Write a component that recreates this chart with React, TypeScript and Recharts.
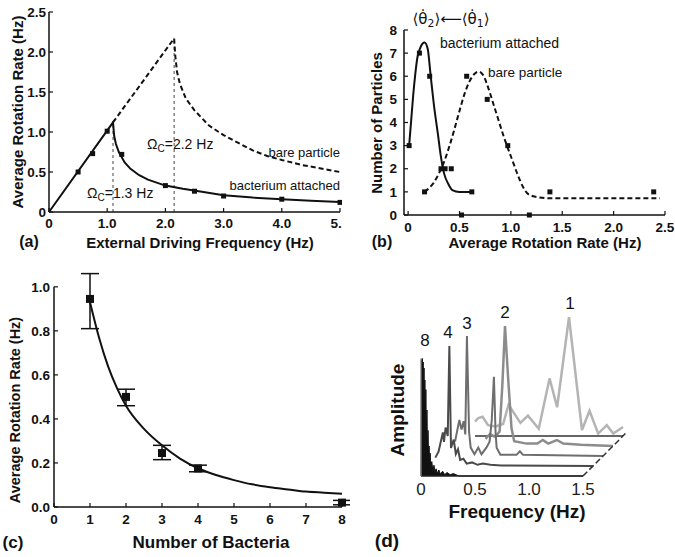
import React from 'react';
import { ComposedChart, Line, Scatter, XAxis, YAxis, ReferenceLine, ErrorBar, Area } from 'recharts';

const FONT = '"Liberation Sans", Arial, Helvetica, sans-serif';
const INK = '#111';

// ---------------- Panel (a) ----------------
const aXTicks = [0, 1, 2, 3, 4, 5];
const aXTickLabels = ['0', '1.0', '2.0', '3.0', '4.0', '5.0'];
const aYTicks = [0, 0.5, 1, 1.5, 2, 2.5];
const aYTickLabels = ['0', '0.5', '1.0', '1.5', '2.0', '2.5'];
const aAttachedFreq = [0, 1.1, 1.12, 1.15, 1.2, 1.3, 1.4, 1.55, 1.7, 2.0, 2.3, 2.6, 3.0, 3.5, 4.0, 4.5, 5.0];
const aAttachedRate = [0, 1.12, 0.95, 0.85, 0.75, 0.62, 0.54, 0.46, 0.405, 0.33, 0.29, 0.255, 0.21, 0.18, 0.16, 0.14, 0.125];
const aBareFreq = [1.1, 2.15, 2.17, 2.2, 2.25, 2.35, 2.5, 2.75, 3.0, 3.5, 3.75, 4.0, 4.33, 5.0];
const aBareRate = [1.12, 2.17, 1.95, 1.75, 1.6, 1.42, 1.27, 1.08, 0.96, 0.77, 0.7, 0.65, 0.59, 0.5];
const aPointFreq = [0.5, 0.75, 1.0, 1.25, 2.0, 2.5, 3.0, 4.0, 5.0];
const aPointRate = [0.5, 0.73, 1.01, 0.72, 0.33, 0.26, 0.2, 0.16, 0.12];
const aCritFreq = [1.1, 2.15];
const aCritRate = [1.12, 2.17];

// ---------------- Panel (b) ----------------
const bXTicks = [0, 0.5, 1, 1.5, 2, 2.5];
const bXTickLabels = ['0', '0.5', '1.0', '1.5', '2.0', '2.5'];
const bYTicks = [0, 1, 2, 3, 4, 5, 6, 7, 8];
const bYTickLabels = ['0', '1', '2', '3', '4', '5', '6', '7', '8'];
const bAttachedRate = [0.01, 0.03, 0.05, 0.07, 0.09, 0.12, 0.16, 0.19, 0.22, 0.25, 0.29, 0.32, 0.35, 0.39, 0.43, 0.5, 0.64];
const bAttachedCount = [3.0, 4.1, 5.2, 6.1, 6.8, 7.25, 7.46, 7.2, 6.0, 4.8, 3.5, 2.5, 1.8, 1.35, 1.08, 1.0, 1.0];
const bBareRate = [0.16, 0.2, 0.25, 0.3, 0.35, 0.4, 0.45, 0.5, 0.55, 0.6, 0.65, 0.69, 0.73, 0.78, 0.83, 0.88, 0.93, 0.97, 1.02, 1.07, 1.12, 1.17, 1.25, 1.38, 1.6, 2.0, 2.45];
const bBareCount = [1.0, 1.15, 1.4, 1.8, 2.3, 2.95, 3.7, 4.5, 5.25, 5.8, 6.12, 6.2, 6.05, 5.5, 4.8, 4.1, 3.4, 2.9, 2.3, 1.7, 1.2, 0.9, 0.78, 0.72, 0.72, 0.72, 0.72];
const bPointRate = [0.01, 0.11, 0.21, 0.16, 0.32, 0.36, 0.42, 0.52, 0.57, 0.62, 0.77, 0.97, 1.18, 1.38, 2.39];
const bPointCount = [3, 7, 6, 1, 2, 2, 2, 0, 6, 1, 5, 3, 0, 1, 1];

// ---------------- Panel (c) ----------------
const cXTicks = [0, 1, 2, 3, 4, 5, 6, 7, 8];
const cXTickLabels = ['0', '1', '2', '3', '4', '5', '6', '7', '8'];
const cYTicks = [0, 0.2, 0.4, 0.6, 0.8, 1.0];
const cYTickLabels = ['0.0', '0.2', '0.4', '0.6', '0.8', '1.0'];
const cBacteria = [1, 2, 3, 4, 8];
const cRate = [0.945, 0.5, 0.245, 0.175, 0.02];
const cRateLow = [0.81, 0.46, 0.215, 0.16, 0.01];
const cRateHigh = [1.06, 0.535, 0.28, 0.19, 0.03];
const cFitN = [1, 1.25, 1.5, 1.75, 2, 2.5, 3, 3.5, 4, 4.5, 5, 5.5, 6, 6.5, 7, 7.5, 8];
const cFitRate = [0.93, 0.77, 0.64, 0.54, 0.46, 0.355, 0.28, 0.22, 0.176, 0.145, 0.122, 0.103, 0.09, 0.08, 0.07, 0.065, 0.06];

// ---------------- Panel (d) ----------------
const dXTicks = [0, 0.5, 1, 1.5];
const dXTickLabels = ['0', '0.5', '1.0', '1.5'];
const dSeriesNames = ['8', '4', '3', '2', '1'];
const d8Freq = [0, 0.004, 0.008, 0.012, 0.016, 0.02, 0.024, 0.028, 0.032, 0.036, 0.04, 0.045, 0.05, 0.055, 0.06, 0.065, 0.07, 0.075, 0.08, 0.085, 0.09, 0.1, 0.11, 0.12, 0.13, 0.14, 0.15, 0.165, 0.18, 0.2, 0.22, 0.24, 0.27, 0.3, 0.35, 1.5];
const d8Amp = [0, 0.97, 0.6, 0.98, 0.7, 0.95, 0.55, 0.9, 0.5, 0.8, 0.4, 0.72, 0.3, 0.55, 0.2, 0.38, 0.15, 0.25, 0.08, 0.19, 0.06, 0.12, 0.04, 0.09, 0.03, 0.06, 0.02, 0.05, 0.015, 0.04, 0.01, 0.03, 0.01, 0.02, 0, 0];
const d4Freq = [0.04, 0.07, 0.09, 0.11, 0.12, 0.135, 0.155, 0.17, 0.185, 0.21, 0.23, 0.25, 0.27, 0.3, 0.33, 0.38, 0.43, 0.48, 0.55, 0.65, 1.5];
const d4Amp = [0.07, 0.12, 0.2, 0.28, 0.2, 0.32, 0.25, 1.0, 0.15, 0.22, 0.1, 0.14, 0.05, 0.06, 0.02, 0.03, 0.01, 0.02, 0.01, 0.005, 0];
const d3Freq = [0.13, 0.15, 0.17, 0.19, 0.21, 0.225, 0.24, 0.26, 0.275, 0.31, 0.345, 0.375, 0.42, 0.45, 0.47, 0.49, 0.505, 0.515, 0.55, 0.7, 0.73, 0.76, 1.5];
const d3Amp = [0.12, 0.21, 0.3, 0.22, 0.29, 0.18, 1.0, 0.2, 0.07, 0.015, 0.07, 0.015, 0.07, 0.12, 0.3, 0.66, 0.2, 0.07, 0.01, 0.01, 0.04, 0.01, 0];
const d2Freq = [0.32, 0.36, 0.4, 0.43, 0.45, 0.475, 0.5, 0.53, 0.56, 0.585, 0.7, 0.8, 0.85, 0.9, 0.98, 1.04, 1.2, 1.5];
const d2Amp = [0.06, 0.1, 0.08, 0.1, 0.12, 0.5, 1.0, 0.55, 0.15, 0.04, 0.02, 0.02, 0.05, 0.02, 0.05, 0.02, 0.01, 0];
const d1Freq = [0.13, 0.16, 0.2, 0.25, 0.32, 0.39, 0.44, 0.55, 0.62, 0.72, 0.82, 0.89, 1.0, 1.12, 1.19, 1.27, 1.35, 1.41, 1.5];
const d1Amp = [0.12, 0.15, 0.16, 0.09, 0.08, 0.1, 0.26, 0.11, 0.17, 0.06, 0.48, 0.24, 0.99, 0.05, 0.21, 0.02, 0.09, 0.02, 0.075];

// waterfall depth step (each spectrum sits one step further back)
const DEPTH_DX = 0.0926;
const DEPTH_DY = 0.0833;

const zip = (xs: number[], ys: number[]) => xs.map((x, i) => ({ x, y: ys[i] }));
const layer = (xs: number[], ys: number[], k: number) =>
  xs.map((x, i) => ({ x: x + k * DEPTH_DX, y: ys[i] + k * DEPTH_DY }));

type TickOpt = {
  ticks: number[];
  labels: string[];
  side: 'x' | 'y';
  gap: number;
  size: number;
  bold?: boolean;
  mark?: number;
  color?: string;
};
const makeTick = (o: TickOpt) => (p: any) => {
  const { x, y, payload } = p;
  const i = o.ticks.indexOf(payload.value);
  const label = i >= 0 ? o.labels[i] : String(payload.value);
  const mark = o.mark ?? 4;
  const st = {
    fontFamily: FONT,
    fontSize: o.size,
    fontWeight: o.bold === false ? 400 : 700,
    fill: o.color || INK,
  };
  if (o.side === 'x') {
    return (
      <g>
        {mark > 0 && <line x1={x} x2={x} y1={y} y2={y - mark} stroke={INK} strokeWidth={1.2} />}
        <text x={x} y={y + o.gap} textAnchor="middle" {...st}>{label}</text>
      </g>
    );
  }
  return (
    <g>
      {mark > 0 && <line x1={x} x2={x + mark} y1={y} y2={y} stroke={INK} strokeWidth={1.2} />}
      <text x={x - o.gap} y={y + o.size * 0.35} textAnchor="end" {...st}>{label}</text>
    </g>
  );
};

const square = (s: number) => (p: any) => (
  <rect x={p.cx - s / 2} y={p.cy - s / 2} width={s} height={s} fill={INK} />
);

type TProps = {
  x: number;
  y: number;
  size?: number;
  bold?: boolean;
  anchor?: 'start' | 'middle' | 'end';
  rotate?: number;
  color?: string;
  family?: string;
  children: React.ReactNode;
};
const T = ({ x, y, size = 13, bold = false, anchor = 'middle', rotate = 0, color = INK, family = FONT, children }: TProps) => {
  const tx = anchor === 'middle' ? '-50%' : anchor === 'end' ? '-100%' : '0';
  return (
    <div
      style={{
        position: 'absolute',
        left: x,
        top: y,
        transform: `translate(${tx}, -50%) rotate(${rotate}deg)`,
        whiteSpace: 'nowrap',
        lineHeight: 1,
        fontSize: size,
        fontWeight: bold ? 700 : 400,
        fontFamily: family,
        color,
      }}
    >
      {children}
    </div>
  );
};

const Sub = ({ children }: { children: React.ReactNode }) => (
  <span style={{ fontSize: '0.72em', position: 'relative', top: '0.3em' }}>{children}</span>
);

const axisStyle = { stroke: INK, strokeWidth: 1.5 };

export default function App() {
  const aAttached = zip(aAttachedFreq, aAttachedRate);
  const aBare = zip(aBareFreq, aBareRate);
  const aPts = zip(aPointFreq, aPointRate);
  const bAttached = zip(bAttachedRate, bAttachedCount);
  const bBare = zip(bBareRate, bBareCount);
  const bPts = zip(bPointRate, bPointCount);
  const cPts = cBacteria.map((n, i) => ({
    x: n,
    y: cRate[i],
    err: [cRate[i] - cRateLow[i], cRateHigh[i] - cRate[i]],
  }));
  const cFit = zip(cFitN, cFitRate);

  const d8 = layer(d8Freq, d8Amp, 0);
  const d4 = layer(d4Freq, d4Amp, 1);
  const d3 = layer(d3Freq, d3Amp, 2);
  const d2 = layer(d2Freq, d2Amp, 3);
  const d1 = layer(d1Freq, d1Amp, 4);
  const d1Floor = layer([d1Freq[0], 1.5], [0, 0], 4);
  const dDiag = [
    { x: 1.5, y: 0 },
    { x: 1.5 + 4.3 * DEPTH_DX, y: 4.3 * DEPTH_DY },
  ];

  return (
    <div style={{ position: 'absolute', left: 0, top: 0, width: 675, height: 557, background: '#fff', overflow: 'hidden' }}>
      {/* ---------- (a) ---------- */}
      <div style={{ position: 'absolute', left: 0, top: 0 }}>
        <ComposedChart width={342} height={232} margin={{ top: 12, right: 2, bottom: 0, left: 0 }}>
          <XAxis type="number" dataKey="x" domain={[0, 5]} ticks={aXTicks} interval={0} height={20}
            tickSize={0} tickMargin={0} tickLine={false} axisLine={axisStyle}
            tick={makeTick({ ticks: aXTicks, labels: aXTickLabels, side: 'x', gap: 15.5, size: 13.5 })} />
          <YAxis type="number" dataKey="y" domain={[0, 2.5]} ticks={aYTicks} interval={0} width={49}
            tickSize={0} tickMargin={0} tickLine={false} axisLine={axisStyle}
            tick={makeTick({ ticks: aYTicks, labels: aYTickLabels, side: 'y', gap: 3, size: 13.5 })} />
          {aCritFreq.map((f, i) => (
            <ReferenceLine key={i} segment={[{ x: f, y: 0 }, { x: f, y: aCritRate[i] }]}
              stroke="#444" strokeWidth={1} strokeDasharray="3 3" />
          ))}
          <Line data={aBare} dataKey="y" type="linear" stroke={INK} strokeWidth={2} strokeDasharray="5 3"
            dot={false} activeDot={false} isAnimationActive={false} />
          <Line data={aAttached} dataKey="y" type="linear" stroke={INK} strokeWidth={2}
            dot={false} activeDot={false} isAnimationActive={false} />
          <Scatter data={aPts} dataKey="y" fill={INK} shape={square(5)} isAnimationActive={false} />
        </ComposedChart>
      </div>
      <T x={17} y={112} size={15} bold rotate={-90}>Average Rotation Rate (Hz)</T>
      <T x={200} y={242} size={15} bold>External Driving Frequency (Hz)</T>
      <T x={29} y={242} size={16} bold>(a)</T>
      <T x={147} y={144} size={14} anchor="start">Ω<Sub>C</Sub>=2.2 Hz</T>
      <T x={87} y={193} size={14} anchor="start">Ω<Sub>C</Sub>=1.3 Hz</T>
      <T x={340} y={152} size={13} anchor="end">bare particle</T>
      <T x={340} y={185} size={13} anchor="end">bacterium attached</T>

      {/* ---------- (b) ---------- */}
      <div style={{ position: 'absolute', left: 340, top: 0 }}>
        <ComposedChart width={335} height={240} margin={{ top: 30, right: 10, bottom: 5, left: 0 }}>
          <XAxis type="number" dataKey="x" domain={[-0.04, 2.5]} ticks={bXTicks} interval={0} height={20}
            tickSize={0} tickMargin={0} tickLine={false} axisLine={axisStyle}
            tick={makeTick({ ticks: bXTicks, labels: bXTickLabels, side: 'x', gap: 16.5, size: 13.5 })} />
          <YAxis type="number" dataKey="y" domain={[0, 8]} ticks={bYTicks} interval={0} width={64}
            tickSize={0} tickMargin={0} tickLine={false} axisLine={axisStyle}
            tick={makeTick({ ticks: bYTicks, labels: bYTickLabels, side: 'y', gap: 7, size: 13.5 })} />
          <Line data={bBare} dataKey="y" type="monotone" stroke={INK} strokeWidth={2} strokeDasharray="5 3"
            dot={false} activeDot={false} isAnimationActive={false} />
          <Line data={bAttached} dataKey="y" type="monotone" stroke={INK} strokeWidth={2}
            dot={false} activeDot={false} isAnimationActive={false} />
          <Scatter data={bPts} dataKey="y" fill={INK} shape={square(5)} isAnimationActive={false} />
        </ComposedChart>
      </div>
      <T x={376} y={123} size={15} bold rotate={-90}>Number of Particles</T>
      <T x={545} y={242} size={15} bold>Average Rotation Rate (Hz)</T>
      <T x={382} y={242} size={16} bold>(b)</T>
      <T x={451} y={19} size={15} family='"DejaVu Sans", sans-serif'>
        {'⟨θ\u0307'}<Sub>2</Sub>{'⟩⟵⟨θ\u0307'}<Sub>1</Sub>{'⟩'}
      </T>
      <T x={440} y={43} size={14} anchor="start">bacterium attached</T>
      <T x={488} y={73} size={13.5} anchor="start">bare particle</T>

      {/* ---------- (c) ---------- */}
      <div style={{ position: 'absolute', left: 0, top: 260 }}>
        <ComposedChart width={350} height={270} margin={{ top: 7, right: 8, bottom: 3, left: 0 }}>
          <XAxis type="number" dataKey="x" domain={[0, 8]} ticks={cXTicks} interval={0} height={20}
            tickSize={0} tickMargin={0} tickLine={false} axisLine={axisStyle}
            tick={makeTick({ ticks: cXTicks, labels: cXTickLabels, side: 'x', gap: 17, size: 13.5 })} />
          <YAxis type="number" dataKey="y" domain={[0, 1.09]} ticks={cYTicks} interval={0} width={54}
            tickSize={0} tickMargin={0} tickLine={false} axisLine={false}
            tick={makeTick({ ticks: cYTicks, labels: cYTickLabels, side: 'y', gap: 4, size: 13.5 })} />
          <ReferenceLine segment={[{ x: 0, y: 0 }, { x: 0, y: 1.0 }]} stroke={INK} strokeWidth={1.5} />
          <Line data={cFit} dataKey="y" type="monotone" stroke={INK} strokeWidth={2}
            dot={false} activeDot={false} isAnimationActive={false} />
          <Scatter data={cPts} dataKey="y" fill={INK} shape={square(8)} isAnimationActive={false}>
            <ErrorBar dataKey="err" direction="y" width={9} stroke={INK} strokeWidth={1.5} />
          </Scatter>
        </ComposedChart>
      </div>
      <T x={15} y={410} size={14.5} bold rotate={-90}>Average Rotation Rate (Hz)</T>
      <T x={211} y={542} size={17} bold>Number of Bacteria</T>
      <T x={13} y={542} size={17} bold>(c)</T>

      {/* ---------- (d) ---------- */}
      <div style={{ position: 'absolute', left: 360, top: 280 }}>
        <ComposedChart width={290} height={220} margin={{ top: 16, right: 13, bottom: 4, left: 61 }}>
          <XAxis type="number" dataKey="x" domain={[0, 2]} ticks={dXTicks} interval={0} height={20}
            tickSize={0} tickMargin={0} tickLine={false} axisLine={false}
            tick={makeTick({ ticks: dXTicks, labels: dXTickLabels, side: 'x', gap: 19, size: 17, bold: false, mark: 0, color: '#222' })} />
          <YAxis hide type="number" dataKey="y" domain={[0, 1.5]} />
          <Line data={d1} dataKey="y" type="linear" stroke="#b4b4b4" strokeWidth={2.5}
            dot={false} activeDot={false} isAnimationActive={false} />
          <Line data={d1Floor} dataKey="y" type="linear" stroke="#333" strokeWidth={1.5}
            dot={false} activeDot={false} isAnimationActive={false} />
          <Line data={d2} dataKey="y" type="linear" stroke="#8c8c8c" strokeWidth={2.5}
            dot={false} activeDot={false} isAnimationActive={false} />
          <Line data={d3} dataKey="y" type="linear" stroke="#6e6e6e" strokeWidth={2}
            dot={false} activeDot={false} isAnimationActive={false} />
          <Line data={d4} dataKey="y" type="linear" stroke="#4a4a4a" strokeWidth={2}
            dot={false} activeDot={false} isAnimationActive={false} />
          <Area data={d8} dataKey="y" type="linear" stroke="#111" strokeWidth={1} fill="#111" fillOpacity={1}
            dot={false} activeDot={false} isAnimationActive={false} />
          <Line data={dDiag} dataKey="y" type="linear" stroke="#333" strokeWidth={1.5} strokeDasharray="6 3"
            dot={false} activeDot={false} isAnimationActive={false} />
          <ReferenceLine segment={[{ x: 0, y: 0 }, { x: 1.5, y: 0 }]} stroke="#222" strokeWidth={1.5} />
          <ReferenceLine segment={[{ x: 0, y: 0 }, { x: 0, y: 0.98 }]} stroke="#888" strokeWidth={1.2} />
        </ComposedChart>
      </div>
      <T x={397} y={410} size={19} bold rotate={-90}>Amplitude</T>
      <T x={517} y={511} size={19} bold>Frequency (Hz)</T>
      <T x={387} y={540} size={19} bold>(d)</T>
      <T x={425} y={340} size={17}>{dSeriesNames[0]}</T>
      <T x={448} y={332} size={17}>{dSeriesNames[1]}</T>
      <T x={467} y={323} size={17}>{dSeriesNames[2]}</T>
      <T x={505} y={312} size={17}>{dSeriesNames[3]}</T>
      <T x={570} y={303} size={17}>{dSeriesNames[4]}</T>
    </div>
  );
}
